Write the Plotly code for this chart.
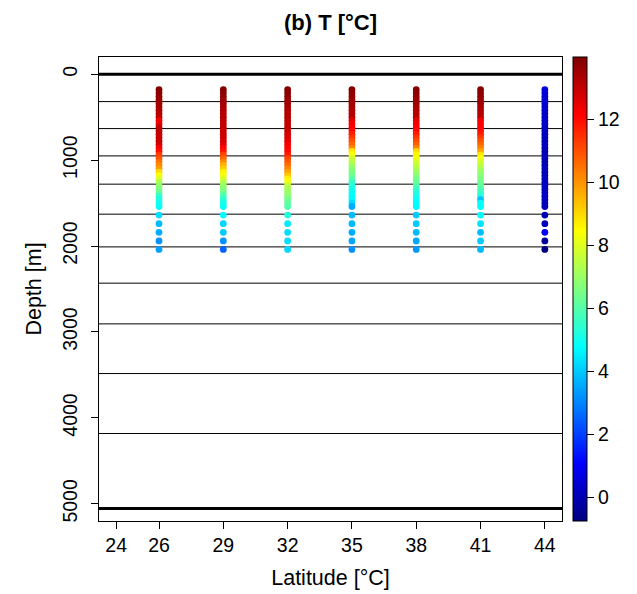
import plotly.graph_objects as go

# ---------------- data ----------------
latitudes = [26, 29, 32, 35, 38, 41, 44]
x_ticks = [24, 26, 29, 32, 35, 38, 41, 44]
y_ticks = [0, 1000, 2000, 3000, 4000, 5000]
cbar_ticks = [0, 2, 4, 6, 8, 10, 12]

# sampling depths [m]
depths = [180, 220, 260, 300, 340, 380, 420, 460, 500, 540, 580, 620, 660, 700,
          740, 780, 820, 860, 900, 940, 980, 1020, 1060, 1100, 1140, 1180, 1220,
          1260, 1300, 1340, 1380, 1420, 1460, 1500, 1540,
          1640, 1740, 1840, 1940, 2040]

# model layer interfaces [m]
layer_depths = [0, 319, 633, 951, 1280, 1629, 2010, 2432, 2906, 3484, 4182, 5055]

# temperature [°C] for each latitude column
T_26 = [13.9, 13.8, 13.7, 13.6, 13.5, 13.4, 13.3, 13.2, 13.1, 12.3, 12.4,
        13.0, 13.1, 13.0, 12.9, 12.9, 12.8, 12.2, 12.0, 11.3, 11.0, 10.5, 10.2,
        9.9, 9.0, 8.4, 8.0, 7.3, 6.9, 6.6, 6.3, 5.5, 5.2, 5.0, 4.9,
        4.3, 3.8, 3.6, 3.2, 3.4]
T_29 = [13.9, 13.8, 13.7, 13.6, 13.5, 13.4, 13.3, 13.2, 13.2, 13.1, 13.0,
        13.0, 12.9, 12.9, 12.8, 12.7, 12.6, 12.1, 11.9, 11.2, 10.7, 10.2, 9.6,
        9.2, 8.6, 8.3, 8.0, 7.4, 7.0, 6.7, 6.4, 5.8, 5.4, 5.1, 4.9,
        4.8, 4.2, 4.0, 3.2, 2.5]
T_32 = [13.9, 13.8, 13.7, 13.6, 13.5, 13.4, 13.3, 13.2, 13.2, 13.1, 13.0,
        13.0, 12.9, 12.8, 12.6, 12.5, 12.3, 12.1, 12.0, 11.8, 11.2, 10.9, 10.6,
        10.2, 9.8, 9.3, 8.6, 8.3, 7.5, 7.2, 7.0, 6.8, 6.4, 6.2, 6.0,
        5.3, 4.5, 4.3, 4.3, 4.2]
T_35 = [13.9, 13.8, 13.7, 13.6, 13.5, 13.4, 13.3, 13.2, 13.2, 12.5, 12.3,
        12.2, 12.0, 11.7, 11.4, 11.0, 10.7, 10.2, 8.8, 8.4, 7.8, 7.5, 7.2,
        6.8, 6.6, 6.4, 6.1, 5.6, 5.3, 5.1, 4.9, 4.8, 4.7, 4.3, 3.6,
        3.8, 3.8, 3.6, 3.5, 3.2]
T_38 = [13.9, 13.8, 13.7, 13.6, 13.5, 13.4, 13.3, 13.2, 13.2, 12.5, 12.3,
        12.1, 12.0, 11.8, 11.4, 11.1, 10.8, 10.3, 9.0, 8.6, 8.3, 7.9, 7.6,
        7.4, 7.1, 6.8, 6.5, 6.3, 6.0, 5.6, 5.3, 5.1, 4.9, 4.8, 4.7,
        4.0, 4.0, 3.8, 3.5, 3.3]
T_41 = [13.9, 13.8, 13.7, 13.6, 13.5, 13.4, 13.3, 13.2, 13.2, 12.4, 12.2,
        12.1, 12.0, 11.8, 11.4, 11.0, 10.7, 10.3, 9.8, 8.8, 8.4, 7.9, 7.6,
        7.3, 7.0, 6.8, 6.6, 6.4, 6.2, 6.0, 5.6, 5.3, 3.9, 4.9, 4.8,
        4.8, 4.4, 3.8, 4.0, 3.8]
T_44 = [0.6, 0.6, 0.5, 0.4, 0.5, 0.3, 0.4, 0.2, 0.3, 0.4, 0.3, 0.2, 0.3,
        0.1, 0.2, 0.0, 0.1, 0.2, -0.1, 0.0, 0.1, -0.1, 0.0, 0.2, 0.1, 0.0,
        0.2, 0.1, 0.3, 0.2, 0.1, 0.3, 0.2, 0.1, 0.0,
        0.0, 0.1, 1.0, -0.4, -0.76]

T_columns = [T_26, T_29, T_32, T_35, T_38, T_41, T_44]
T_min, T_max = -0.76, 13.97

# ---------------- figure ----------------
FONT = "Liberation Sans, Arial, Helvetica, sans-serif"
TICK_SIZE = 19.5
LABEL_SIZE = 21.5
jet = ["#00007F", "#0000FF", "#007FFF", "#00FFFF", "#7FFF7F",
       "#FFFF00", "#FF7F00", "#FF0000", "#7F0000"]
colorscale = [[i / (len(jet) - 1), c] for i, c in enumerate(jet)]

xs, ys, cs = [], [], []
for lat, col in zip(latitudes, T_columns):
    for d, t in zip(depths, col):
        xs.append(lat)
        ys.append(d)
        cs.append(t)

fig = go.Figure()

# layer interface lines
for i, d in enumerate(layer_depths):
    thick = (i == 0 or i == len(layer_depths) - 1)
    fig.add_shape(type="line", xref="x domain", yref="y", x0=0, x1=1, y0=d, y1=d,
                  line=dict(color="black", width=3 if thick else 1), layer="below")

fig.add_trace(go.Scatter(
    x=xs, y=ys, mode="markers",
    marker=dict(size=6.8, color=cs, colorscale=colorscale, cmin=T_min, cmax=T_max,
                line=dict(width=0),
                showscale=True,
                colorbar=dict(
                    x=1.0238, xanchor="left", xpad=0, ypad=0,
                    y=0.5, yanchor="middle", len=1, lenmode="fraction",
                    thickness=14, thicknessmode="pixels",
                    outlinecolor="black", outlinewidth=1,
                    tickmode="array", tickvals=cbar_ticks,
                    ticks="outside", ticklen=7, tickcolor="black",
                    tickfont=dict(family=FONT, size=TICK_SIZE, color="black"),
                )),
    showlegend=False, hoverinfo="skip",
))

fig.update_layout(
    width=637, height=594,
    margin=dict(l=99, r=75, t=57, b=73, autoexpand=False),
    paper_bgcolor="white", plot_bgcolor="white",
    font=dict(family=FONT, color="black"),
    title=dict(text="<b>(b) T [°C]</b>", x=(99 + 562) / 2 / 637, xanchor="center",
               y=1 - 22 / 594, yanchor="middle", yref="container",
               font=dict(family=FONT, size=22, color="black")),
    xaxis=dict(range=[23.2, 44.8], tickmode="array", tickvals=x_ticks,
               ticks="outside", ticklen=7, tickcolor="black",
               showgrid=False, zeroline=False, automargin=False,
               showline=True, linecolor="black", linewidth=1, mirror=True,
               tickfont=dict(family=FONT, size=TICK_SIZE, color="black"),
               title=dict(text="Latitude [°C]", standoff=14,
                          font=dict(family=FONT, size=LABEL_SIZE, color="black"))),
    yaxis=dict(range=[5200, -200], tickmode="array", tickvals=y_ticks,
               ticks="outside", ticklen=7, tickcolor="black", tickangle=-90,
               ticklabelstandoff=6, automargin=False,
               showgrid=False, zeroline=False,
               showline=True, linecolor="black", linewidth=1, mirror=True,
               tickfont=dict(family=FONT, size=TICK_SIZE, color="black"),
               title=dict(text="Depth [m]", standoff=11,
                          font=dict(family=FONT, size=LABEL_SIZE, color="black"))),
)

fig.write_html("out.html")
